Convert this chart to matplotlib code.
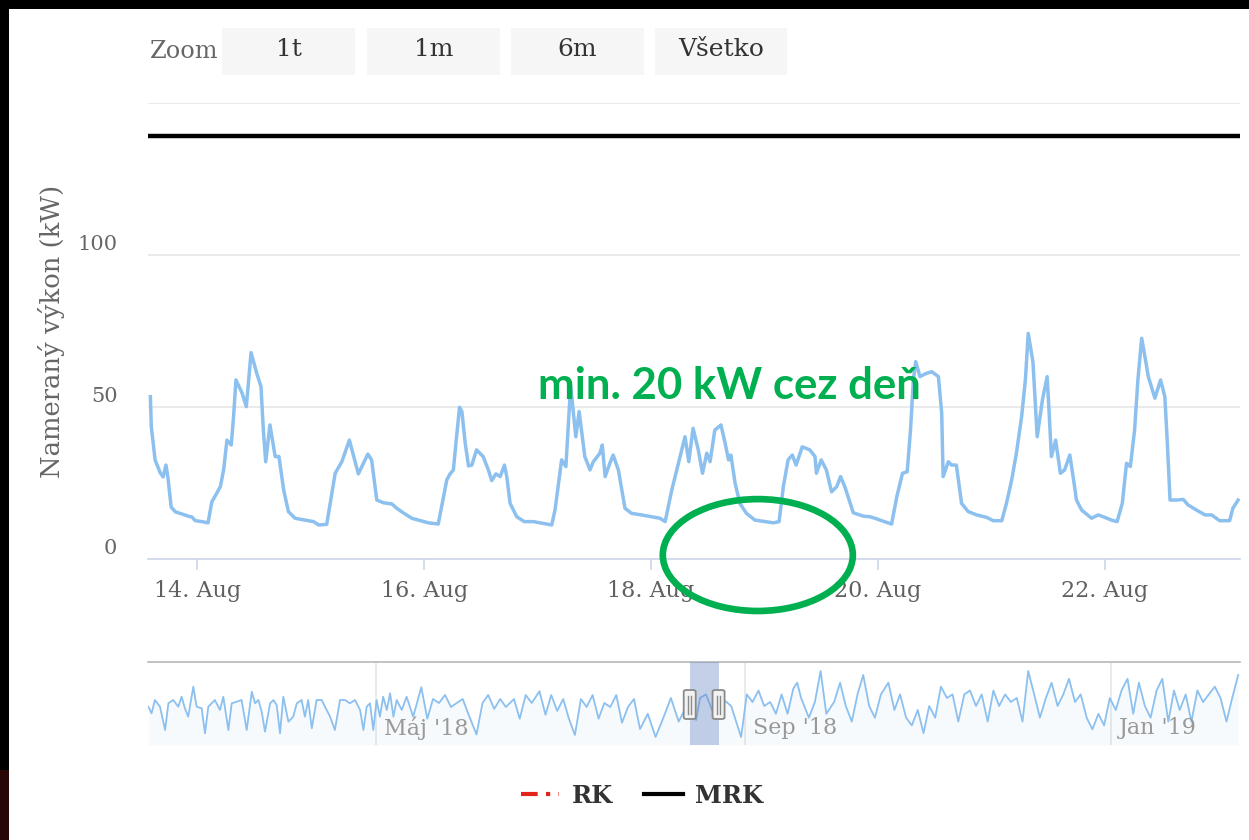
import numpy as np
import matplotlib
matplotlib.use("Agg")
import matplotlib.pyplot as plt
import matplotlib.dates as mdates
from matplotlib.patches import Rectangle, Ellipse, FancyBboxPatch
from matplotlib.lines import Line2D
from matplotlib.transforms import ScaledTranslation

# ---------------- data ----------------
base_time = np.datetime64("2018-08-13T00:00")
# hours since base_time
hours = [14.1, 14.3, 15.1, 16.2, 16.8, 17.4, 17.8, 18.5, 19.4, 20.8, 22.1, 22.9, 23.6, 25.0, 26.3, 27.1, 27.8, 28.9, 29.6, 30.3,
         31.2, 31.7, 32.2, 33.5, 34.4, 35.4, 36.6, 37.5, 38.0, 38.5, 39.4, 40.5, 41.3, 42.3, 43.3, 44.7, 46.8, 48.6, 49.7, 51.4,
         52.5, 53.2, 54.6, 56.2, 58.1, 60.1, 60.9,
         62.0, 63.4, 65.2, 66.2, 67.6, 69.4, 70.8, 72.9, 75.0, 75.7, 76.8, 77.5, 78.2, 78.8, 79.5, 80.0, 80.7, 81.4, 82.1, 83.1,
         84.5, 85.6, 86.3, 87.2, 88.1, 89.0, 89.5, 90.2, 91.6, 93.2, 95.1, 97.2, 99.0, 99.7, 101.1, 102.0, 103.0, 104.1, 104.8, 106.0,
         107.1, 107.8, 109.2,
         109.7, 110.3, 111.3, 112.0, 113.1, 114.5, 115.9, 118.0, 120.2, 121.9, 123.0, 124.4, 125.8, 127.2, 128.0, 128.9, 130.0, 130.9,
         131.8, 132.5, 133.5, 134.8, 135.7, 136.4, 136.9, 137.8, 138.8, 140.2, 142.0, 144.1, 145.9, 147.1, 148.0, 149.0, 149.9, 150.7,
         152.0, 153.6, 154.7, 155.0, 156.0,
         157.1, 158.2, 159.3, 160.1, 161.0, 162.8, 164.9, 166.3, 167.4, 168.8, 170.9, 172.0, 173.2, 174.2, 174.9, 175.5, 176.0, 176.9,
         178.3, 179.4, 180.8, 181.5, 181.8, 182.9, 183.6, 184.6, 185.7, 187.1, 188.9, 191.0, 192.4, 194.2, 195.2, 196.3, 197.3, 198.4,
         199.2, 199.8, 200.8, 201.7, 202.8, 203.8, 204.2, 204.7, 205.6, 206.6, 207.5, 208.6, 209.3, 210.0, 211.1, 213.2, 214.6, 216.0,
         217.4, 218.6, 219.7, 220.6, 221.4, 222.3, 223.0, 223.8, 224.5, 225.2, 226.6, 227.8, 228.7, 229.2, 229.8, 231.2, 232.6, 233.6,
         235.4, 237.2, 238.6, 240.3, 242.4, 243.1, 244.2]
power_kw = [53.4, 43.5, 32.6, 28.3, 27.0, 30.9, 27.0, 17.1, 15.5, 14.8, 14.1, 13.8, 12.6, 12.3, 11.9, 18.8, 20.7, 23.8, 29.3, 39.1,
            37.5, 46.8, 58.9, 54.6, 50.1, 67.9, 61.1, 56.7, 42.4, 32.0, 44.1, 33.7, 33.7, 22.7, 15.6, 13.4, 12.8, 12.3, 11.2, 11.4,
            21.6, 28.2, 32.0, 39.1, 28.0, 34.5, 32.6,
            19.4, 18.5, 18.1, 16.7, 15.2, 13.4, 12.8, 11.9, 11.5, 17.2, 26.0, 28.0, 29.3, 39.1, 49.9, 48.5, 38.1, 30.6, 30.9, 35.9,
            33.7, 29.3, 25.8, 28.0, 27.1, 30.9, 27.1, 18.3, 13.9, 12.3, 12.3, 11.7, 11.2, 16.1, 32.6, 30.4, 57.0, 40.2, 48.5, 33.7,
            29.3, 32.0, 34.8,
            37.5, 27.1, 31.5, 34.2, 29.3, 16.7, 15.0, 14.5, 13.9, 13.4, 12.3, 22.7, 31.5, 40.2, 32.0, 43.0, 35.9, 28.2,
            34.8, 32.0, 42.4, 44.1, 38.1, 32.6, 34.2, 24.9, 18.3, 15.0, 12.8, 12.3, 11.9, 12.3, 23.8, 32.6, 34.2, 30.9,
            36.9, 35.9, 33.7, 28.2, 32.6,
            29.3, 22.1, 23.8, 27.1, 23.8, 15.2, 14.1, 13.9, 13.4, 12.6, 11.5, 20.5, 28.2, 28.7, 42.4, 58.9, 64.9, 60.0,
            61.1, 61.6, 60.0, 47.9, 27.1, 32.0, 30.9, 30.9, 18.3, 15.6, 14.5, 13.7, 12.6, 12.6, 18.3, 26.0, 34.8, 46.8,
            58.9, 74.2, 64.8, 40.2, 52.3, 60.0, 49.0, 33.7, 39.1, 28.2, 29.3, 34.2, 27.1, 19.4, 16.1, 13.4, 14.5, 13.7,
            12.8, 12.3, 18.3, 31.5, 30.4, 42.4, 58.9, 72.6, 66.5, 60.0, 52.9, 58.9, 53.4, 39.1, 19.4, 19.4, 19.6, 17.8,
            16.1, 14.5, 14.5, 12.6, 12.6, 16.7, 19.4]
mrk_kw = 139
view_hours = [13.6, 244.6]

y_ticks = [0, 50, 100, 150]
y_tick_labels = ["0", "50", "100", ""]
x_tick_dates = ["2018-08-14", "2018-08-16", "2018-08-18", "2018-08-20", "2018-08-22"]
x_tick_labels = ["14. Aug", "16. Aug", "18. Aug", "20. Aug", "22. Aug"]

# navigator (whole year, compressed)
nav_base = np.datetime64("2018-02-14T00:00")
nav_days = [0.1, 1.2, 2.3, 4.0, 5.7, 6.8, 8.4, 10.1, 11.2, 12.3, 13.4, 15.1, 16.2, 17.9, 19.0, 20.1, 21.2, 22.3, 24.0, 25.1,
            26.8, 27.9, 29.6, 31.2, 32.9, 34.6, 35.7, 36.8, 37.9, 39.0, 40.7, 41.8, 42.9, 44.0, 45.1, 46.8, 48.4, 49.6, 51.2, 52.3,
            53.4, 54.6, 56.2, 57.9, 59.0, 60.7, 62.3, 64.0, 65.7, 67.3, 69.0, 70.7, 71.8, 72.9, 74.0, 75.1, 76.2, 77.3, 78.4, 79.6,
            80.7, 81.8, 82.9, 84.6, 86.2, 88.4,
            91.1, 93.1, 95.0, 97.0, 99.0, 101.0, 102.9, 104.9, 106.9, 109.5, 111.5, 113.4, 115.4, 117.4, 119.3, 122.0, 123.9, 125.9,
            127.9, 130.5, 132.5, 134.4, 136.4, 138.4, 140.3, 142.3, 144.3, 146.2, 148.2, 150.2, 152.1, 154.1, 156.1, 158.0, 160.0, 162.0,
            164.0, 166.6, 169.2, 171.8, 174.3, 176.9, 178.8, 180.8, 182.7, 184.0, 186.0, 188.3, 191.2, 194.4, 197.7, 199.6, 201.5,
            203.5, 205.4, 207.4, 209.3, 211.2, 213.2, 215.1, 216.4, 217.7, 220.3, 222.3, 224.2, 226.1, 228.7, 230.7, 232.6, 234.6,
            236.5, 238.4, 240.4, 242.3, 244.3, 246.8, 248.8, 250.7, 252.7, 254.6, 256.6, 258.5, 260.4, 262.4, 264.3, 266.3, 268.2,
            270.1, 272.1, 274.0, 276.0, 277.9, 279.9, 281.8, 283.7, 285.7, 287.6, 289.6, 291.5, 293.4, 295.4, 297.3, 299.3, 301.2,
            303.2, 305.1, 307.0, 309.0, 310.9, 312.9, 314.8, 316.8, 318.7, 320.6, 322.6, 324.5, 326.5, 328.4, 330.3, 332.3, 334.2,
            336.2, 338.1, 340.1, 342.0, 343.9, 345.9, 347.8, 349.8, 351.7, 353.6, 355.6, 357.5, 359.5, 361.4, 363.4]
nav_level = [38.3, 31.7, 45, 38.3, 15, 41.7, 45, 38.3, 48.3, 36.7, 28.3, 58.3, 38.3, 36.7, 11.7, 38.3, 41.7, 45, 35, 48.3,
             15, 41.7, 43.3, 45, 15, 53.3, 41.7, 45, 33.3, 13.3, 41.7, 45, 40, 11.7, 48.3, 23.3, 28.3, 41.7, 45, 28.3,
             45, 16.7, 45, 45, 38.3, 28.3, 15, 45, 45, 41.7, 45, 35, 15, 38.3, 41.7, 15, 45, 28.3, 48.3, 35,
             51.7, 28.3, 45, 35, 48.3, 28.3,
             57.8, 26.3, 46, 42, 50, 38, 42, 46, 30.2, 10.5, 42, 50, 36.1, 46, 38, 46, 26.3, 50, 42, 53.8, 30.2, 50, 34.1, 46,
             26.3, 10, 46, 38, 50, 26.3, 42, 38, 50, 22.3, 38, 46,
             16, 31.2, 8, 27.3, 47, 23.4, 35, 35, 25, 47, 50.6, 33, 47, 39, 8, 50.6, 43, 54.5, 39, 43, 31.2, 50.6, 31.2, 56.5,
             62.3, 47, 27.3, 43, 74, 31.2, 43, 62.3, 39, 23.4, 50.6, 70, 39, 27.3, 50.6, 62.3, 35, 50.6, 27.3, 19.6, 35, 11.8,
             39, 27.3, 58.4, 47, 50.6, 23.4, 50.6, 54.5, 39, 50.6, 23.4, 54.5, 39, 50.6, 43, 47, 23.4, 74, 50.6, 27.3, 47, 62.3,
             39, 50.6, 66.2, 43, 50.6, 27.3, 15.7, 31.2, 19.6, 47, 35, 54.5, 66.2, 31.2, 62.3, 39, 27.3, 54.5, 66.2, 23.4, 54.5,
             35, 50.6, 23.4, 54.5, 43, 50.6, 58.4, 47, 23.4, 47, 70]
nav_span_days = [0, 364]
nav_month_dates = ["2018-05-01", "2018-09-01", "2019-01-01"]
nav_month_labels = ["Máj '18", "Sep '18", "Jan '19"]

zoom_buttons = ["1t", "1m", "6m", "Všetko"]
legend_labels = ["RK", "MRK"]
note_text = "min. 20 kW cez deň"

# ---------------- helpers ----------------
W, H = 1249, 840
def fx(px):
    return px / W
def fy(py):
    return 1 - py / H

times = base_time + (np.array(hours) * 60).astype("timedelta64[m]")
t0 = base_time + np.timedelta64(int(view_hours[0] * 60), "m")
t1 = base_time + np.timedelta64(int(view_hours[1] * 60), "m")
nav_times = nav_base + (np.array(nav_days) * 24 * 60).astype("timedelta64[m]")

SERIF = "DejaVu Serif"
LINE_C = "#8cc0ef"
GRID_C = "#e6e6e6"

fig = plt.figure(figsize=(W / 100, H / 100), dpi=100)
fig.patch.set_facecolor("black")
fig.patches.append(Rectangle((fx(9), 0), 1 - fx(9), fy(9), transform=fig.transFigure,
                             facecolor="white", edgecolor="none", zorder=-10))
fig.patches.append(Rectangle((0, 0), fx(9), fy(770), transform=fig.transFigure,
                             facecolor="#2a0707", edgecolor="none", zorder=-10))

# ---------------- range selector ----------------
fig.text(fx(150), fy(51), "Zoom", family=SERIF, size=17.3, color="#666666", va="center", ha="left")
btn_x = [(222, 355), (367, 500), (511, 644), (655, 787)]
for (a, b), lab in zip(btn_x, zoom_buttons):
    fig.patches.append(Rectangle((fx(a), fy(75)), fx(b) - fx(a), fy(28) - fy(75), transform=fig.transFigure,
                                 facecolor="#f6f6f6", edgecolor="none"))
    fig.text(fx((a + b) / 2), fy(49), lab, family=SERIF, size=18, color="#333333", va="center", ha="center")

# ---------------- main chart ----------------
ax = fig.add_axes([fx(148), fy(559), fx(1240) - fx(148), fy(103) - fy(559)])
ax.plot(times, power_kw, color=LINE_C, lw=2.5, solid_joinstyle="round", zorder=3)
ax.axhline(mrk_kw, color="black", lw=3.2, zorder=4)
ax.set_xlim(t0, t1)
ax.set_ylim(0, 150)
ax.set_yticks(y_ticks)
ax.set_yticklabels(y_tick_labels)
ax.yaxis.grid(True, color=GRID_C, lw=1.2)
ax.set_axisbelow(True)
for s in ["left", "right", "top"]:
    ax.spines[s].set_visible(False)
ax.spines["bottom"].set_color("#ccd6eb")
ax.spines["bottom"].set_linewidth(1.2)
ax.tick_params(axis="y", length=0, labelsize=15, labelcolor="#666666", pad=22)
for lab in ax.get_yticklabels():
    lab.set_family(SERIF)
    lab.set_transform(lab.get_transform() + ScaledTranslation(0, 12 / 100, fig.dpi_scale_trans))
ax.set_xticks([np.datetime64(d) for d in x_tick_dates])
ax.set_xticklabels(x_tick_labels)
ax.tick_params(axis="x", length=8, width=1.2, color="#ccd6eb", labelsize=16, labelcolor="#606060", pad=7)
for lab in ax.get_xticklabels():
    lab.set_family(SERIF)
ax.set_ylabel("Nameraný výkon (kW)", family=SERIF, size=18.6, color="#666666")
ax.yaxis.set_label_coords(-83 / 1092, 0.5)

# annotation
note_t = base_time + np.timedelta64(int(136.5 * 60), "m")
ax.text(note_t, 57.0, note_text, family="Lato", weight="bold", size=31.5, color="#00b050",
        ha="center", va="center", zorder=6)
ell_t = mdates.date2num(base_time + np.timedelta64(int(142.6 * 60), "m"))
ax.add_patch(Ellipse((ell_t, 1.3), width=40.2 / 24, height=36.8, fill=False, edgecolor="#00b050",
                     lw=4.8, clip_on=False, zorder=7))

# ---------------- navigator ----------------
nav = fig.add_axes([fx(148), fy(745), fx(1240) - fx(148), fy(662) - fy(745)])
nav.plot(nav_times, nav_level, color=LINE_C, lw=1.3, zorder=3)
nav.fill_between(nav_times, nav_level, 0, color=LINE_C, alpha=0.07, lw=0, zorder=2)
nav.set_xlim(nav_base + np.timedelta64(nav_span_days[0], "D"), nav_base + np.timedelta64(nav_span_days[1], "D"))
nav.set_ylim(0, 83)
for s in ["left", "right", "bottom"]:
    nav.spines[s].set_visible(False)
nav.spines["top"].set_color("#b8b8b8")
nav.spines["top"].set_linewidth(1.2)
nav.set_yticks([])
nav.set_xticks([np.datetime64(d) for d in nav_month_dates])
nav.xaxis.grid(True, color=GRID_C, lw=1.2)
nav.tick_params(axis="x", length=0, labelbottom=False)
for d, lab in zip(nav_month_dates, nav_month_labels):
    nav.text(np.datetime64(d), 0.2, lab, transform=nav.get_xaxis_transform(), family=SERIF, size=16,
             color="#999999", ha="left", va="center")
for lab in nav.texts:
    lab.set_transform(lab.get_transform() + ScaledTranslation(8 / 100, 0, fig.dpi_scale_trans))
nav.axvspan(t0, t1, color="#6685c2", alpha=0.38, lw=0, zorder=4)

# navigator handles at selection edges
for tt in (t0, t1):
    px = nav.transData.transform((mdates.date2num(tt), 0))[0]
    hx = px / W
    hw, hh = 12 / W, 29 / H
    fig.patches.append(FancyBboxPatch((hx - hw / 2, fy(719)), hw, hh, boxstyle="round,pad=0,rounding_size=0.002",
                                      transform=fig.transFigure, facecolor="#f2f2f2", edgecolor="#8a8a8a",
                                      lw=1.3, zorder=10))
    for dx in (-1.5, 1.5):
        fig.lines.append(Line2D([hx + dx / W, hx + dx / W], [fy(714), fy(696)], transform=fig.transFigure,
                                color="#8a8a8a", lw=1, zorder=11))

# ---------------- legend ----------------
handles = [Line2D([], [], color="#e3221c", lw=3, linestyle=(0, (4, 2, 1, 2))),
           Line2D([], [], color="black", lw=3)]
fig.legend(handles=handles, labels=legend_labels, loc="center", bbox_to_anchor=(fx(642), fy(796)), ncol=2,
           frameon=False, prop=dict(family=SERIF, weight="bold", size=17.5), handlelength=1.6,
           columnspacing=1.3, handletextpad=0.5, labelcolor="#333333")

fig.savefig("out.png", dpi=100, facecolor=fig.get_facecolor())
